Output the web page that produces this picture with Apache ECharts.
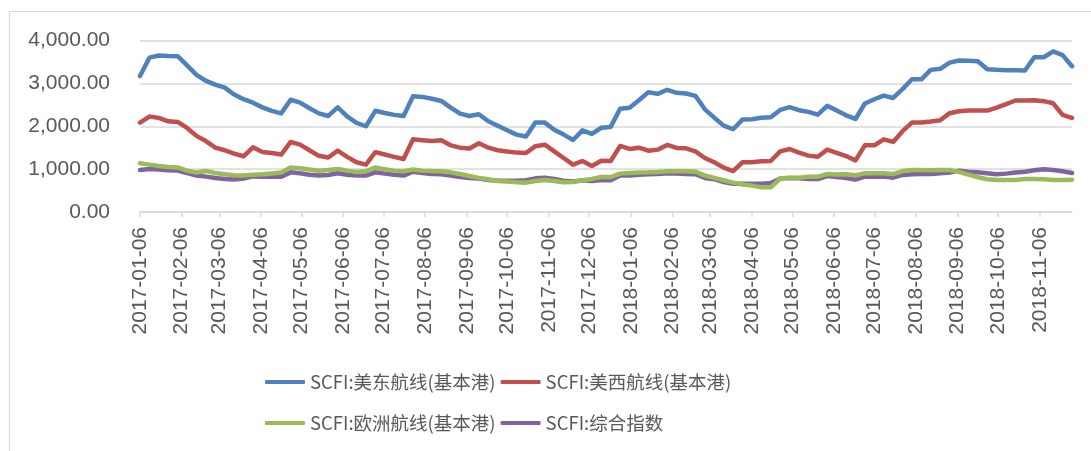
<!DOCTYPE html>
<html>
<head>
<meta charset="utf-8">
<script src="https://cdn.jsdelivr.net/npm/echarts@6/dist/echarts.min.js"></script>
<style>
  html, body { margin: 0; padding: 0; background: #fff; }
  #scfi_chart { width: 1091px; height: 451px; }
</style>
</head>
<body>
<div id="scfi_chart"></div>
<script>
// 周度数据，从 2017-01-06 起每周五一个点，共 100 周
var startDay = '2017-01-06';
var weekCount = 100;

var seriesNames = ['SCFI:美东航线(基本港)', 'SCFI:美西航线(基本港)', 'SCFI:欧洲航线(基本港)', 'SCFI:综合指数'];

var usEast = [
    3170, 3600, 3650, 3640, 3635, 3420, 3200, 3060, 2970, 2900,
    2740, 2630, 2550, 2440, 2360, 2300, 2620, 2550, 2420, 2300,
    2240, 2440, 2230, 2080, 2000, 2360, 2310, 2265, 2240, 2700,
    2685, 2640, 2590, 2435, 2295, 2240, 2280, 2115, 2010, 1905,
    1805, 1760, 2085, 2085, 1920, 1805, 1680, 1905, 1820, 1965,
    1985, 2410, 2430, 2605, 2795, 2755, 2850, 2780, 2765, 2710,
    2395, 2200, 2015, 1930, 2155, 2165, 2200, 2210, 2380, 2445,
    2375, 2335, 2270, 2475, 2370, 2255, 2170, 2530, 2630, 2715,
    2660, 2865, 3095, 3095, 3315, 3340, 3485, 3535, 3525, 3515,
    3330, 3315, 3305, 3305, 3300, 3610, 3610, 3745, 3660, 3400
];
var usWest = [
    2085, 2225, 2195, 2115, 2100, 1960, 1775, 1655, 1500, 1440,
    1360, 1300, 1510, 1400, 1375, 1340, 1635, 1570, 1440, 1310,
    1270, 1430, 1285, 1160, 1105, 1395, 1340, 1285, 1235, 1695,
    1675, 1655, 1675, 1555, 1500, 1480, 1605, 1500, 1440, 1410,
    1385, 1375, 1535, 1570, 1415, 1260, 1105, 1190, 1075, 1195,
    1190, 1540, 1470, 1500, 1430, 1455, 1565, 1495, 1485, 1415,
    1260, 1160, 1035, 955, 1160, 1160, 1185, 1190, 1415, 1470,
    1385, 1315, 1290, 1455, 1380, 1305, 1205, 1555, 1555, 1695,
    1635, 1885, 2085, 2085, 2110, 2140, 2305, 2350, 2365, 2365,
    2365, 2435, 2515, 2600, 2600, 2605, 2585, 2535, 2265, 2195
];
var europe = [
    1135, 1105, 1075, 1050, 1040, 965, 920, 955, 910, 880,
    855, 850, 870, 880, 900, 920, 1040, 1020, 990, 960,
    980, 1005, 965, 935, 950, 1040, 995, 965, 950, 990,
    965, 955, 950, 925, 885, 840, 795, 765, 725, 710,
    695, 685, 725, 745, 725, 695, 700, 740, 770, 815,
    815, 895, 910, 920, 925, 935, 950, 950, 950, 940,
    850, 795, 740, 685, 640, 615, 575, 575, 780, 800,
    800, 825, 825, 885, 875, 880, 855, 905, 905, 905,
    885, 955, 980, 980, 975, 980, 980, 935, 870, 810,
    765, 745, 745, 745, 770, 770, 765, 745, 745, 755
];
var composite = [
    980, 1005, 990, 975, 965, 910, 850, 825, 795, 770,
    760, 780, 830, 825, 825, 825, 925, 905, 870, 850,
    865, 905, 870, 850, 850, 925, 895, 870, 850, 940,
    910, 885, 880, 850, 815, 795, 780, 745, 730, 730,
    730, 740, 785, 800, 770, 730, 710, 740, 725, 745,
    740, 850, 850, 870, 880, 885, 905, 895, 885, 880,
    795, 765, 700, 660, 660, 660, 660, 675, 780, 795,
    785, 770, 770, 840, 815, 795, 755, 825, 825, 825,
    800, 865, 880, 885, 885, 905, 920, 965, 940, 925,
    905, 880, 895, 920, 940, 975, 995, 980, 950, 910
];

var tickLabels = [
    '2017-01-06', '2017-02-06', '2017-03-06', '2017-04-06', '2017-05-06', '2017-06-06',
    '2017-07-06', '2017-08-06', '2017-09-06', '2017-10-06', '2017-11-06', '2017-12-06',
    '2018-01-06', '2018-02-06', '2018-03-06', '2018-04-06', '2018-05-06', '2018-06-06',
    '2018-07-06', '2018-08-06', '2018-09-06', '2018-10-06', '2018-11-06'
];

var colors = ['#4f81bd', '#c0504d', '#9bbb59', '#8064a2'];

// x 轴用“距起始日的天数”，标签再换回日期
var DAY = 86400000;
function utcDay(s) {
    var p = s.split('-');
    return Date.UTC(+p[0], +p[1] - 1, +p[2]);
}
function pad(n) { return n < 10 ? '0' + n : '' + n; }
var t0 = utcDay(startDay);
function dayOffset(s) { return Math.round((utcDay(s) - t0) / DAY); }
function dayLabel(off) {
    var d = new Date(t0 + off * DAY);
    return d.getUTCFullYear() + '-' + pad(d.getUTCMonth() + 1) + '-' + pad(d.getUTCDate());
}

var tickValues = tickLabels.map(dayOffset);
var lastDay = 7 * (weekCount - 1);

function pairs(values) {
    return values.map(function (v, i) { return [7 * i, v]; });
}

var chart = echarts.init(document.getElementById('scfi_chart'));

function makeSeries(idx, values) {
    return {
        "name": seriesNames[idx],
        "type": "line",
        "showSymbol": false,
        "symbol": "none",
        "smooth": false,
        "z": 10 - idx,
        "lineStyle": {
            "width": 4.5,
            "color": colors[idx],
            "cap": "round",
            "join": "round"
        },
        "itemStyle": { "color": colors[idx] },
        "data": pairs(values)
    };
}

var legendText = {
    "color": "#595959",
    "fontSize": 18.5,
    "fontFamily": "Noto Sans CJK SC",
    "lineHeight": 22
};

option = {
    "animation": false,
    "color": colors,
    "graphic": [{
        "type": "rect",
        "shape": { "x": 9.5, "y": 11.5, "width": 1200, "height": 600 },
        "style": { "fill": "none", "stroke": "#d9d9d9", "lineWidth": 1 },
        "silent": true
    }],
    "grid": {
        "left": 140,
        "right": 19,
        "top": 40.5,
        "bottom": 239,
        "containLabel": false
    },
    "legend": [{
        "left": 265,
        "top": 371,
        "padding": 0,
        "itemWidth": 40,
        "itemHeight": 4,
        "itemGap": 5,
        "icon": "roundRect",
        "textStyle": legendText,
        "data": [seriesNames[0], seriesNames[1]]
    }, {
        "left": 265,
        "top": 412,
        "padding": 0,
        "itemWidth": 40,
        "itemHeight": 4,
        "itemGap": 5,
        "icon": "roundRect",
        "textStyle": legendText,
        "data": [seriesNames[2], seriesNames[3]]
    }],
    "xAxis": {
        "type": "value",
        "min": 0,
        "max": lastDay,
        "axisLine": {
            "lineStyle": { "color": "#d9d9d9", "width": 1.5 }
        },
        "axisTick": {
            "show": true,
            "length": 5,
            "customValues": tickValues,
            "lineStyle": { "color": "#d9d9d9", "width": 1.5 }
        },
        "splitLine": { "show": false },
        "axisLabel": {
            "customValues": tickValues,
            "rotate": 90,
            "margin": 15,
            "color": "#595959",
            "fontSize": 21,
            "fontFamily": "Liberation Sans",
            "hideOverlap": false,
            "formatter": function (v) { return dayLabel(v); }
        }
    },
    "yAxis": {
        "type": "value",
        "min": 0,
        "max": 4000,
        "interval": 1000,
        "axisLine": { "show": false },
        "axisTick": { "show": false },
        "splitLine": {
            "show": true,
            "lineStyle": { "color": "#d9d9d9", "width": 1.5 }
        },
        "axisLabel": {
            "margin": 30,
            "color": "#595959",
            "fontSize": 21,
            "fontFamily": "Liberation Sans",
            "formatter": function (v) {
                return v.toLocaleString('en-US', { minimumFractionDigits: 2, maximumFractionDigits: 2 });
            }
        }
    },
    "series": [
        makeSeries(0, usEast),
        makeSeries(1, usWest),
        makeSeries(2, europe),
        makeSeries(3, composite)
    ]
};

chart.setOption(option);
</script>
</body>
</html>
